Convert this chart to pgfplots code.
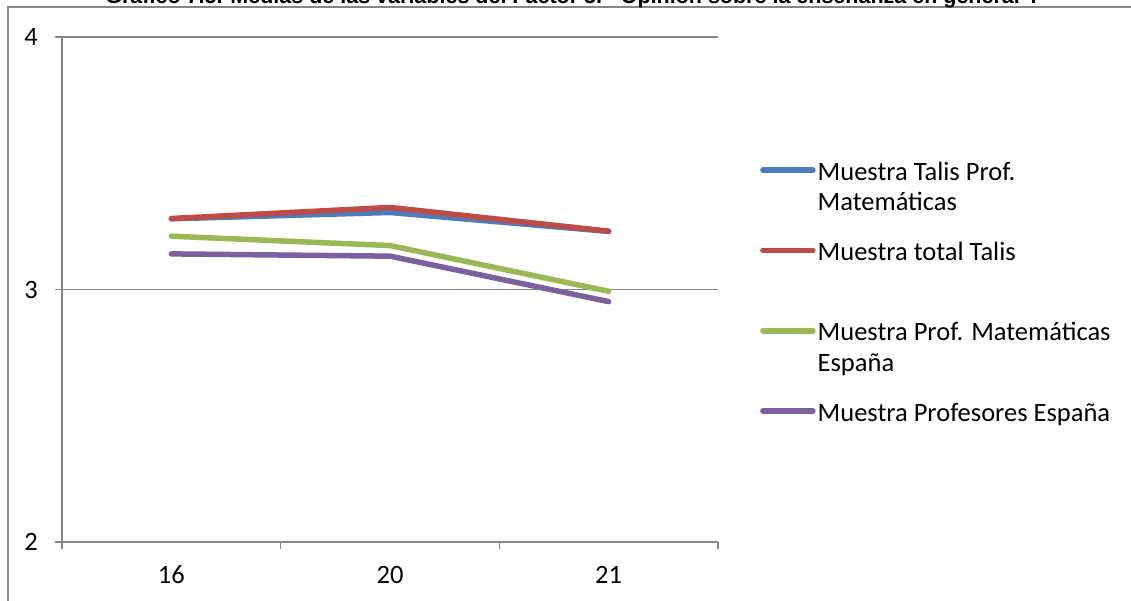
\documentclass[border=0pt]{standalone}
\usepackage{fontspec}
\setmainfont{Carlito}
\newfontfamily\titlefont{Liberation Sans}
\usepackage{pgfplots}
\pgfplotsset{compat=1.18}
\definecolor{sblue}{RGB}{74,126,187}
\definecolor{sred}{RGB}{190,75,72}
\definecolor{sgreen}{RGB}{152,185,84}
\definecolor{spurple}{RGB}{125,96,160}
\definecolor{gridgray}{RGB}{134,134,134}
\begin{document}
\begin{tikzpicture}
\useasboundingbox (0pt,0pt) rectangle (1131pt,601pt);
\draw[gridgray, line width=1.5pt] (8pt,-5pt) -- (8pt,594pt) -- (1140pt,594pt);
\node[anchor=base, font=\titlefont\bfseries\fontsize{21.5}{25}\selectfont, inner sep=0pt] at (571pt,597.5pt)
  {Gráfico 7.5. Medias de las variables del Factor 3. “Opinión sobre la enseñanza en general”.};
\begin{axis}[
  at={(62pt,59pt)}, anchor=south west,
  scale only axis, width=656pt, height=505pt,
  xmin=-0.5, xmax=2.5, ymin=2, ymax=4,
  xtick={-0.5,0.5,1.5,2.5},
  xticklabels={16,20,21},
  x tick label as interval=true,
  ytick={2,3,4},
  axis x line*=bottom, axis y line*=left,
  axis line style={gridgray, line width=1.2pt},
  ymajorgrids, grid style={gridgray, line width=1.2pt},
  major tick style={gridgray, line width=1.2pt},
  tick align=outside, major tick length=7pt,
  /pgf/number format/assume math mode=true,
  ticklabel style={font=\fontsize{26.5}{31}\selectfont},
  yticklabel style={inner sep=0pt, xshift=-17pt},
  xticklabel style={inner sep=0pt, anchor=north, text height=12pt, text depth=0pt, yshift=-22pt},
  clip=false,
  legend style={draw=none, fill=none, at={(1.064,0.763)}, anchor=north west,
    font=\fontsize{26.5}{30.5}\selectfont, cells={align=left, anchor=west},
    row sep=23pt, inner sep=0pt},
  legend cell align=left,
  legend image code/.code={\draw[#1, line width=5.5pt, line cap=round] (0pt,15.5pt) -- (50pt,15.5pt);},
  every axis plot/.append style={line width=5.5pt, line cap=round, line join=round, mark=none},
]
\addplot[sblue] coordinates {(0,3.28) (1,3.305) (2,3.23)};
\addlegendentry{Muestra Talis Prof.\strut\\Matemáticas\strut}
\addplot[sred] coordinates {(0,3.281) (1,3.325) (2,3.231)};
\addlegendentry{Muestra total Talis\strut\\\strut}
\addplot[sgreen] coordinates {(0,3.211) (1,3.174) (2,2.993)};
\addlegendentry{Muestra Prof. Matemáticas\strut\\España\strut}
\addplot[spurple] coordinates {(0,3.141) (1,3.132) (2,2.952)};
\addlegendentry{Muestra Profesores España\strut\\\strut}
\end{axis}
\end{tikzpicture}
\end{document}
